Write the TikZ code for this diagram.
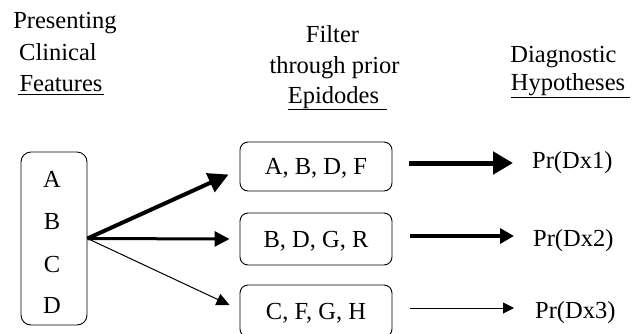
\documentclass[tikz,border=0pt]{standalone}
\usepackage{fontspec}
\setmainfont{Liberation Serif}
\usetikzlibrary{arrows.meta,calc}
\begin{document}
\begin{tikzpicture}[x=1pt,y=-1pt,
  every node/.style={font=\fontsize{24.5}{29}\selectfont, inner sep=0pt},
  hdr/.style={anchor=base},
  ul/.style={line width=1.6pt},
  rbox/.style={draw, line width=0.9pt, rounded corners=8pt, minimum width=152pt, text height=16pt, text depth=0pt},
  lbox/.style={draw, line width=0.9pt, rounded corners=10pt, minimum width=66pt, minimum height=173pt},
  letter/.style={anchor=base},
  prob/.style={anchor=base west},
  aone/.style={line width=4pt, -{Triangle[length=20pt,width=20pt]}},
  atwo/.style={line width=3pt, -{Triangle[length=15pt,width=15pt]}},
  athree/.style={line width=1pt, -{Triangle[length=13pt,width=12pt]}},
  rone/.style={line width=5pt, -{Triangle[length=20pt,width=22pt]}},
  rtwo/.style={line width=3.5pt, -{Triangle[length=14pt,width=15pt]}},
  rthree/.style={line width=1pt, -{Triangle[length=11pt,width=11pt]}}
]
\useasboundingbox (0,0) rectangle (640,333);

% headers
\node[hdr] (h1a) at (65,28) {Presenting};
\node[hdr] (h1b) at (58,60) {Clinical};
\node[hdr] (h1c) at (61,91) {Features};
\draw[ul] ([yshift=-3pt,xshift=-1pt]h1c.south west) -- ([yshift=-3pt,xshift=1pt]h1c.south east);

\node[hdr] (h2a) at (332.5,42) {Filter};
\node[hdr] (h2b) at (334.5,73) {through prior};
\node[hdr] (h2c) at (333.5,103) {Epidodes};
\draw[ul] ([yshift=-1pt]h2c.south west) -- ([yshift=-1pt,xshift=8pt]h2c.south east);

\node[hdr] (h3a) at (563.5,62) {Diagnostic};
\node[hdr] (h3b) at (568,90) {Hypotheses};
\draw[ul] ([yshift=-2pt]h3b.south west) -- ([yshift=-2pt,xshift=5pt]h3b.south east);

% left box
\node[lbox] (L) at (54,238.5) {};
\node[letter] (la) at (52,187) {A};
\node[letter] (lb) at (52,229) {B};
\node[letter] (lc) at (52,272) {C};
\node[letter] (ld) at (52,313) {D};

% middle boxes
\node[rbox, minimum height=49pt] (m1) at (316,166.5) {A, B, D, F};
\node[rbox, minimum height=52pt] (m2) at (316,239) {B, D, G, R};
\node[rbox, minimum height=52pt] (m3) at (316,311) {C, F, G, H};

% probabilities
\node[prob] (p1) at (532,168) {Pr(Dx1)};
\node[prob] (p2) at (533,246) {Pr(Dx2)};
\node[prob] (p3) at (535,318) {Pr(Dx3)};

% left arrows
\draw[aone] (L.east) -- ([xshift=-11pt,yshift=-8pt]m1.west);
\draw[atwo] (L.east) -- ([xshift=-10pt]m2.west);
\draw[athree] (L.east) -- ([xshift=-10pt,yshift=6pt]m3.west);

% right arrows
\draw[rone] ($(m1.east)+(17,-3.5)$) -- ($(m1.east -| p1.west)+(-19,-3.5)$);
\draw[rtwo] ($(m2.east)+(18,-3)$) -- ($(m2.east -| p2.west)+(-19,-3)$);
\draw[rthree] ($(m3.east)+(18,-3)$) -- ($(m3.east -| p3.west)+(-21,-3)$);
\end{tikzpicture}
\end{document}
